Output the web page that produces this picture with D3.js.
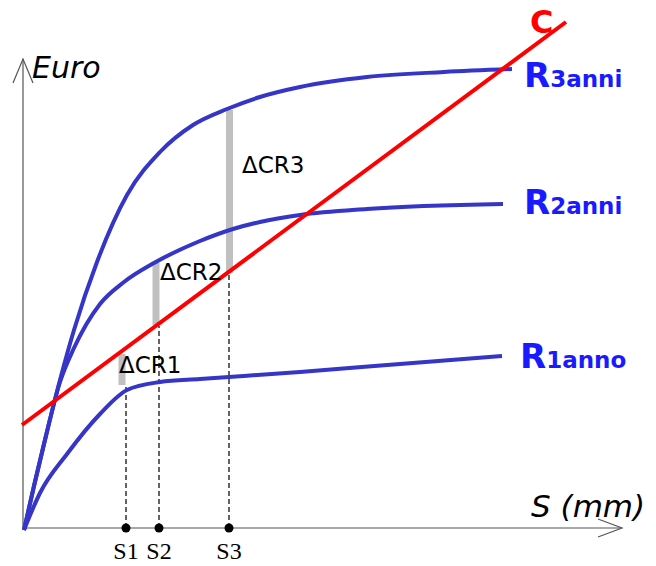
<!DOCTYPE html>
<html><head><meta charset="utf-8">
<script src="https://cdn.jsdelivr.net/npm/d3@7"></script>
<style>body{margin:0;background:#fff}svg{display:block}</style>
</head><body>
<script>
// ---- data (chart units: S along x, Euro along y) ----
const r3anni = [[0,0],[10,44],[20,86],[36,150],[50,200],[73,268],[103,335],[136,378],[169,405],[203,421],[236,433],[276,443],[343,453],[420,458],[488,461]];
const r2anni = [[0,0],[10,44],[20,86],[36,148],[50,182],[76,226],[100,248],[130,267],[176,289],[209,301],[236,308],[276,315],[343,321],[479,326]];
const r1anno = [[0,0],[16,37],[43,76],[76,116],[103,140],[136,148],[176,151],[276,158],[376,166],[478,174]];
const costLine = [[-2,105],[542,508]];
const sLabels = ["S1","S2","S3"];
const sValues = [102,135,205];
const sTops = [143,204,255];
const deltaLabels = ["\u0394CR1","\u0394CR2","\u0394CR3"];
const deltaX = [98,132,205.5];
const deltaLow = [145,205,257];
const deltaHigh = [176,267,420];
const deltaLabelPos = [[95,157],[136,250],[218,357]];
const seriesNames = [["R","3anni"],["R","2anni"],["R","1anno"]];
const seriesLabelPos = [[500,443],[500,316],[496,162]];

const W=656,H=566;
const svg=d3.select("body").append("svg").attr("width",W).attr("height",H);
const x=d3.scaleLinear().domain([0,600]).range([24,624]);
const y=d3.scaleLinear().domain([0,500]).range([530,30]);

// axes
const axCol="#555";
const ax=svg.append("g").attr("stroke",axCol).attr("stroke-width",1.2).attr("fill","none");
const x0=x(-1), yb=y(2);
ax.append("line").attr("x1",x0).attr("y1",yb).attr("x2",x(598)).attr("y2",yb);
ax.append("path").attr("d",`M${x(598)-24},${yb-9}L${x(598)},${yb}L${x(598)-24},${yb+9}`);
ax.append("line").attr("x1",x0).attr("y1",yb).attr("x2",x0).attr("y2",y(471));
ax.append("path").attr("d",`M${x0-10},${y(471)+24}L${x0},${y(471)}L${x0+10},${y(471)+24}`);

// dashed S lines
sValues.forEach((s,i)=>{
  svg.append("line").attr("x1",x(s)).attr("x2",x(s)).attr("y1",y(2)).attr("y2",y(sTops[i]))
    .attr("stroke","#222").attr("stroke-width",1.4).attr("stroke-dasharray","5,3");
});

// grey delta bars
deltaX.forEach((d,i)=>{
  svg.append("line").attr("x1",x(d)).attr("x2",x(d)).attr("y1",y(deltaLow[i])).attr("y2",y(deltaHigh[i]))
    .attr("stroke","#c0c0c0").attr("stroke-width",7);
});

// curves
const line=d3.line().x(d=>x(d[0])).y(d=>y(d[1])).curve(d3.curveMonotoneX);
[r1anno,r2anni,r3anni].forEach(s=>{
  svg.append("path").attr("d",line(s)).attr("fill","none").attr("stroke","#3535c8").attr("stroke-width",4).attr("stroke-linecap","butt");
});
svg.append("path").attr("d",d3.line().x(d=>x(d[0])).y(d=>y(d[1]))(costLine)).attr("fill","none").attr("stroke","#ff0000").attr("stroke-width",4);

// S dots + labels
sValues.forEach((s,i)=>{
  svg.append("circle").attr("cx",x(s)).attr("cy",y(2)).attr("r",4.5).attr("fill","#000");
  svg.append("text").attr("x",x(s)).attr("y",559).attr("text-anchor","middle")
    .attr("font-family","Liberation Serif, Times New Roman, serif").attr("font-size",24).attr("fill","#000").text(sLabels[i]);
});

// delta labels
deltaLabels.forEach((t,i)=>{
  svg.append("text").attr("x",x(deltaLabelPos[i][0])).attr("y",y(deltaLabelPos[i][1]))
    .attr("font-family","DejaVu Sans, sans-serif").attr("font-size",23).attr("fill","#000").text(t);
});

// series labels
seriesNames.forEach((n,i)=>{
  const t=svg.append("text").attr("x",x(seriesLabelPos[i][0])).attr("y",y(seriesLabelPos[i][1]))
    .attr("font-family","DejaVu Sans, sans-serif").attr("font-weight","bold").attr("fill","#1a1aff");
  t.append("tspan").attr("font-size",34).text(n[0]);
  t.append("tspan").attr("font-size",23).text(n[1]);
});
svg.append("text").attr("x",x(506)).attr("y",y(497)).attr("font-family","DejaVu Sans, sans-serif")
  .attr("font-weight","bold").attr("font-size",32).attr("fill","#ff0000").text("C");

// axis titles
svg.append("text").attr("x",32).attr("y",78).attr("font-family","DejaVu Sans, sans-serif").attr("font-style","italic")
  .attr("font-size",30).attr("fill","#000").text("Euro");
svg.append("text").attr("x",531).attr("y",517).attr("font-family","DejaVu Sans, sans-serif").attr("font-style","italic")
  .attr("font-size",31).attr("fill","#000").text("S (mm)");
</script>
</body></html>
